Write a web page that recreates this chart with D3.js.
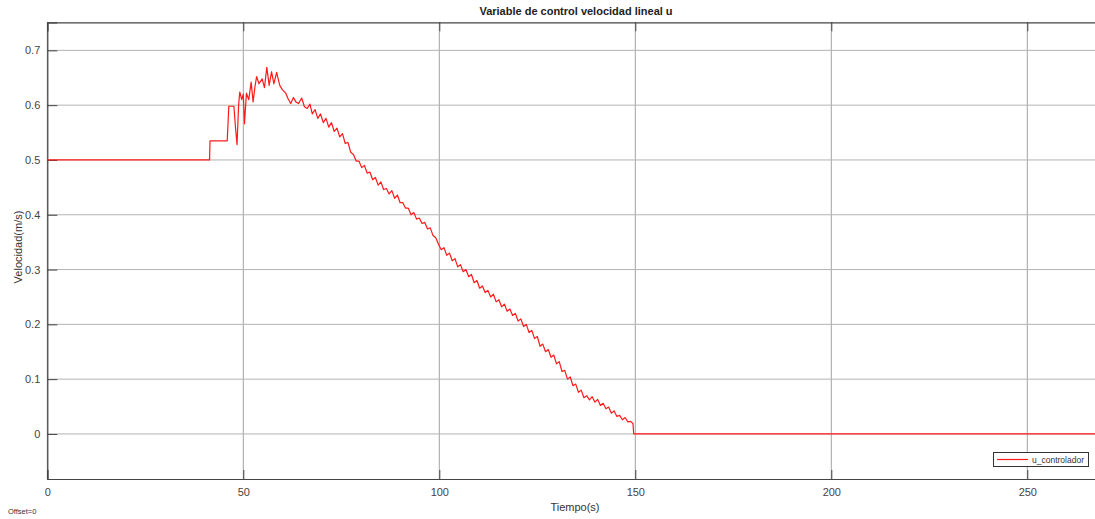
<!DOCTYPE html>
<html>
<head>
<meta charset="utf-8">
<title>Variable de control velocidad lineal u</title>
<script src="https://d3js.org/d3.v7.min.js"></script>
<style>
  body { margin: 0; background: #fff; }
  text { font-family: "Liberation Sans", Arial, sans-serif; }
</style>
</head>
<body>
<div id="chart"></div>
<script>
// data
var xTicks = [0, 50, 100, 150, 200, 250];
var yTicks = [0, 0.1, 0.2, 0.3, 0.4, 0.5, 0.6, 0.7];

var tiempo = [0, 41.4, 41.5, 45.9, 46.3, 47.6, 48.0, 48.4, 48.8, 49.1, 49.6, 50.0, 50.3, 50.8, 51.4, 52.0, 52.5, 53.0, 53.4, 54.0,
  54.8, 55.4, 56.0, 56.6, 57.2, 57.8, 58.5, 59.3, 60.0, 60.8, 61.4, 62.1, 62.8, 63.4, 64.1, 64.9, 65.6, 66.3, 67.0, 67.6,
  68.3, 69.0, 69.7, 70.4, 71.1, 71.8, 72.5, 73.2, 73.9, 74.6, 75.3, 76.0, 76.7, 77.4, 78.1, 78.8, 79.5, 80.2, 80.9, 81.6,
  82.3, 83.0, 83.7, 84.4, 85.1, 85.8, 86.5, 87.2, 87.9, 88.6, 89.3, 90.0, 90.7, 91.4, 92.1, 92.8, 93.5, 94.2, 94.9, 95.6,
  96.3, 97.0, 97.7, 98.4, 99.1, 99.8, 100.5, 101.2, 101.9, 102.6, 103.3, 104.0, 104.7, 105.4, 106.1, 106.8, 107.5, 108.2, 108.9, 109.6,
  110.3, 111.0, 111.7, 112.4, 113.1, 113.8, 114.5, 115.2, 115.9, 116.6, 117.3, 118.0, 118.7, 119.4, 120.1, 120.8, 121.5, 122.2, 122.9, 123.6,
  124.3, 125.0, 125.7, 126.4, 127.1, 127.8, 128.5, 129.2, 129.9, 130.6, 131.3, 132.0, 132.7, 133.4, 134.1, 134.8, 135.5, 136.2, 136.9, 137.6,
  138.3, 139.0, 139.7, 140.4, 141.1, 141.8, 142.5, 143.2, 143.9, 144.6, 145.3, 146.0, 146.7, 147.4, 148.1, 148.8, 149.4, 149.6, 270];

var u = [0.5, 0.5, 0.535, 0.535, 0.598, 0.598, 0.56, 0.528, 0.6, 0.624, 0.61, 0.62, 0.566, 0.622, 0.61, 0.642, 0.606, 0.635, 0.652, 0.639,
  0.648, 0.632, 0.669, 0.636, 0.661, 0.639, 0.660, 0.636, 0.628, 0.622, 0.612, 0.603, 0.614, 0.606, 0.603, 0.613, 0.597, 0.594, 0.602, 0.584,
  0.592, 0.576, 0.584, 0.568, 0.576, 0.560, 0.568, 0.552, 0.558, 0.542, 0.548, 0.530, 0.532, 0.514, 0.510, 0.498, 0.498, 0.486, 0.490, 0.476,
  0.478, 0.464, 0.468, 0.454, 0.460, 0.446, 0.448, 0.438, 0.444, 0.430, 0.436, 0.422, 0.422, 0.412, 0.412, 0.400, 0.404, 0.392, 0.394, 0.384,
  0.386, 0.374, 0.376, 0.362, 0.358, 0.346, 0.336, 0.340, 0.326, 0.330, 0.316, 0.320, 0.305, 0.309, 0.296, 0.300, 0.287, 0.291, 0.276, 0.280,
  0.266, 0.270, 0.258, 0.262, 0.250, 0.255, 0.241, 0.245, 0.232, 0.237, 0.224, 0.228, 0.216, 0.220, 0.206, 0.210, 0.196, 0.200, 0.185, 0.189,
  0.174, 0.178, 0.160, 0.164, 0.150, 0.154, 0.140, 0.144, 0.128, 0.132, 0.114, 0.116, 0.100, 0.104, 0.088, 0.091, 0.076, 0.080, 0.066, 0.070,
  0.062, 0.068, 0.058, 0.063, 0.052, 0.056, 0.046, 0.049, 0.038, 0.042, 0.032, 0.034, 0.026, 0.030, 0.022, 0.023, 0.019, 0, 0];

// sizes
var W = 1095, H = 519;
var plotLeft = 47.3, plotTop = 22.3, plotBottom = 479;
var plotRight = plotLeft + 270 * 3.92;

var svg = d3.select("#chart").append("svg")
  .attr("width", W)
  .attr("height", H);

var x = d3.scaleLinear().domain([0, 270]).range([plotLeft, plotRight]);
var y = d3.scaleLinear().domain([-0.0822, 0.7512]).range([plotBottom, plotTop]);

// grid
var grid = svg.append("g");
grid.selectAll(".vg").data(xTicks).enter().append("line")
  .attr("x1", function(d) { return x(d); })
  .attr("x2", function(d) { return x(d); })
  .attr("y1", plotTop).attr("y2", plotBottom)
  .attr("stroke", "#a3a3a3").attr("stroke-width", 1);
grid.selectAll(".hg").data(yTicks).enter().append("line")
  .attr("y1", function(d) { return y(d); })
  .attr("y2", function(d) { return y(d); })
  .attr("x1", plotLeft).attr("x2", plotRight)
  .attr("stroke", "#b3b3b3").attr("stroke-width", 1);

// axes (ticks inside like matlab)
var xAxis = svg.append("g")
  .attr("transform", "translate(0," + plotBottom + ")")
  .call(d3.axisBottom(x).tickValues(xTicks).tickSize(-9).tickPadding(9).tickFormat(d3.format("d")));
var yAxis = svg.append("g")
  .attr("transform", "translate(" + plotLeft + ",0)")
  .call(d3.axisLeft(y).tickValues(yTicks).tickSize(-10).tickPadding(7)
    .tickFormat(function(d) { return d === 0 ? "0" : d3.format(".1f")(d); }));
var xTop = svg.append("g")
  .attr("transform", "translate(0," + plotTop + ")")
  .call(d3.axisTop(x).tickValues(xTicks).tickSize(-9).tickFormat(""));

[xAxis, yAxis, xTop].forEach(function(a) {
  a.select(".domain").attr("stroke", "#444").attr("stroke-width", 1.2);
  a.selectAll(".tick line").attr("stroke", "#444");
  a.selectAll(".tick text").attr("fill", "#444").style("font-size", "11px")
    .style("font-family", "'Liberation Sans', Arial, sans-serif");
});

// the signal
var line = d3.line()
  .x(function(d) { return x(d[0]); })
  .y(function(d) { return y(d[1]); });
svg.append("path")
  .datum(d3.zip(tiempo, u))
  .attr("d", line)
  .attr("fill", "none")
  .attr("stroke", "#ff1a1a")
  .attr("stroke-width", 1.2)
  .attr("stroke-linejoin", "round");

// title and labels
svg.append("text")
  .attr("x", 576).attr("y", 15)
  .attr("text-anchor", "middle")
  .style("font-size", "11px").style("font-weight", "bold")
  .attr("fill", "#222")
  .text("Variable de control velocidad lineal u");

svg.append("text")
  .attr("x", 575).attr("y", 511)
  .attr("text-anchor", "middle")
  .style("font-size", "11px")
  .attr("fill", "#333")
  .text("Tiempo(s)");

svg.append("text")
  .attr("transform", "translate(22,247) rotate(-90)")
  .attr("text-anchor", "middle")
  .style("font-size", "11px")
  .attr("fill", "#333")
  .text("Velocidad(m/s)");

svg.append("text")
  .attr("x", 8).attr("y", 514)
  .style("font-size", "7.5px")
  .attr("fill", "#333")
  .text("Offset=0");

// legend
var lg = svg.append("g");
lg.append("rect")
  .attr("x", 993.5).attr("y", 452.5)
  .attr("width", 95).attr("height", 14)
  .attr("fill", "#fff").attr("stroke", "#333").attr("stroke-width", 1);
lg.append("line")
  .attr("x1", 997).attr("x2", 1028)
  .attr("y1", 459.5).attr("y2", 459.5)
  .attr("stroke", "#ff1a1a").attr("stroke-width", 1.2);
lg.append("text")
  .attr("x", 1032).attr("y", 462.5)
  .style("font-size", "8.5px")
  .attr("fill", "#333")
  .text("u_controlador");
</script>
</body>
</html>
